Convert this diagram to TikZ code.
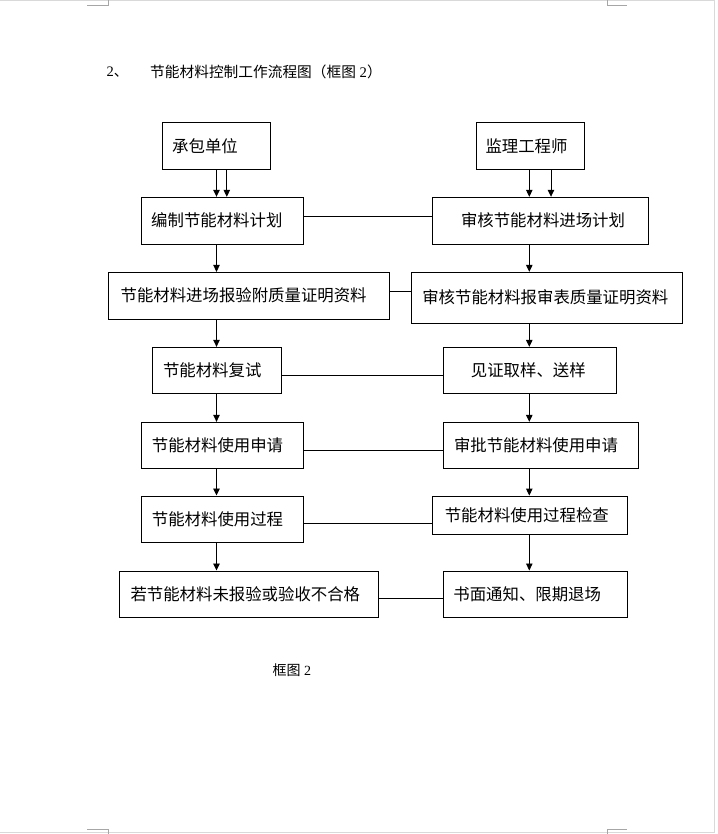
\documentclass[tikz,border=0pt]{standalone}
\usepackage{fontspec}
\setmainfont{Liberation Serif}
\newfontfamily\cjk{Noto Sans CJK SC}
\usetikzlibrary{arrows.meta}
\begin{document}
\begin{tikzpicture}[x=1pt,y=-1pt,
  box/.style={draw,line width=0.9pt,inner sep=0pt,font=\cjk\fontsize{16.4}{18}\selectfont,anchor=center},
  arr/.style={line width=0.9pt,-{Triangle[width=6.5pt,length=7pt]}},
  link/.style={line width=0.9pt},
  pageline/.style={draw=black!15,line width=1pt},
  cornermark/.style={draw=black!35,line width=0.8pt}]
\useasboundingbox (0,0) rectangle (717,834);
% page frame and corner marks
\draw[pageline] (0,0.5) -- (714.5,0.5) -- (714.5,832.5) -- (0,832.5);
\draw[cornermark] (87,5.5) -- (108,5.5) -- (108,0);
\draw[cornermark] (607,0) -- (607,5.5) -- (627,5.5);
\draw[cornermark] (87,829) -- (108,829) -- (108,834);
\draw[cornermark] (607,834) -- (607,829) -- (627,829);
% title
\node[anchor=west,inner sep=0pt,font=\fontsize{14.5}{16}\selectfont] (num) at (106.5,72) {2{\cjk 、}};
\node[anchor=west,inner sep=0pt,font=\cjk\fontsize{14.7}{16}\selectfont] (title) at (150,72) {节能材料控制工作流程图（框图{\rmfamily\ 2}）};
% boxes
\node[box,minimum width=108.4,minimum height=47] (cb) at (216.5,145.8) {\kern-23pt 承包单位};
\node[box,minimum width=107.3,minimum height=47] (jl) at (530.3,145.8) {\kern-7.6pt 监理工程师};
\node[box,minimum width=162,minimum height=46.7] (bz) at (222.3,220.6) {\kern-11pt 编制节能材料计划};
\node[box,minimum width=216,minimum height=46.7] (sh1) at (540.3,220.6) {\kern5.4pt 审核节能材料进场计划};
\node[box,minimum width=281,minimum height=46.7] (bj) at (248.8,295.7) {\kern-10.4pt \raisebox{2pt}{节能材料进场报验附质量证明资料}};
\node[box,minimum width=271,minimum height=51] (sh2) at (547.2,297.8) {\kern-3.8pt \raisebox{2.8pt}{审核节能材料报审表质量证明资料}};
\node[box,minimum width=129.4,minimum height=46] (fs) at (217,370.3) {\kern-9.6pt 节能材料复试};
\node[box,minimum width=173.4,minimum height=46] (jz) at (530,370.3) {\kern-3.4pt 见证取样、送样};
\node[box,minimum width=162,minimum height=46] (sq) at (222.3,445.3) {\kern-9.6pt 节能材料使用申请};
\node[box,minimum width=195,minimum height=46] (sp) at (540.8,445.3) {\kern-9.6pt 审批节能材料使用申请};
\node[box,minimum width=162,minimum height=46.7] (gc) at (222.3,519.3) {\kern-9.6pt 节能材料使用过程};
\node[box,minimum width=195.4,minimum height=38] (jc) at (530,515) {\kern-6.4pt \raisebox{-4pt}{节能材料使用过程检查}};
\node[box,minimum width=259.4,minimum height=46.7] (rb) at (249,594.3) {\kern-7.4pt 若节能材料未报验或验收不合格};
\node[box,minimum width=184.4,minimum height=46.7] (sm) at (535.5,594.3) {\kern-16.6pt 书面通知、限期退场};
% caption
\node[anchor=west,inner sep=0pt,font=\cjk\fontsize{14}{15}\selectfont] (cap) at (272.5,670) {框图{\rmfamily\ 2}};
% double arrows
\draw[arr] (cb.south) -- (cb.south |- bz.north);
\draw[arr] ([xshift=10.3pt]cb.south) -- ([xshift=10.3pt]cb.south |- bz.north);
\draw[arr] ([xshift=-1pt]jl.south) -- ([xshift=-1pt]jl.south |- sh1.north);
\draw[arr] ([xshift=20.7pt]jl.south) -- ([xshift=20.7pt]jl.south |- sh1.north);
% left column
\draw[arr] (bz.south -| cb) -- (bj.north -| cb);
\draw[arr] (bj.south -| cb) -- (fs.north -| cb);
\draw[arr] (fs.south -| cb) -- (sq.north -| cb);
\draw[arr] (sq.south -| cb) -- (gc.north -| cb);
\draw[arr] (gc.south -| cb) -- (rb.north -| cb);
% right column
\draw[arr] ([xshift=-1pt]sh1.south -| jl) -- ([xshift=-1pt]sh2.north -| jl);
\draw[arr] ([xshift=-1pt]sh2.south -| jl) -- ([xshift=-1pt]jz.north -| jl);
\draw[arr] ([xshift=-1pt]jz.south -| jl) -- ([xshift=-1pt]sp.north -| jl);
\draw[arr] ([xshift=-1pt]sp.south -| jl) -- ([xshift=-1pt]jc.north -| jl);
\draw[arr] ([xshift=-1pt]jc.south -| jl) -- ([xshift=-1pt]sm.north -| jl);
% horizontal links
\draw[link] ([yshift=4pt]bz.east) -- ([yshift=4pt]bz.east -| sh1.west);
\draw[link] ([yshift=4.7pt]bj.east) -- ([yshift=4.7pt]bj.east -| sh2.west);
\draw[link] ([yshift=-4.7pt]fs.east) -- ([yshift=-4.7pt]fs.east -| jz.west);
\draw[link] ([yshift=-4.7pt]sq.east) -- ([yshift=-4.7pt]sq.east -| sp.west);
\draw[link] ([yshift=-4pt]gc.east) -- ([yshift=-4pt]gc.east -| jc.west);
\draw[link] ([yshift=-4pt]rb.east) -- ([yshift=-4pt]rb.east -| sm.west);
\end{tikzpicture}
\end{document}
